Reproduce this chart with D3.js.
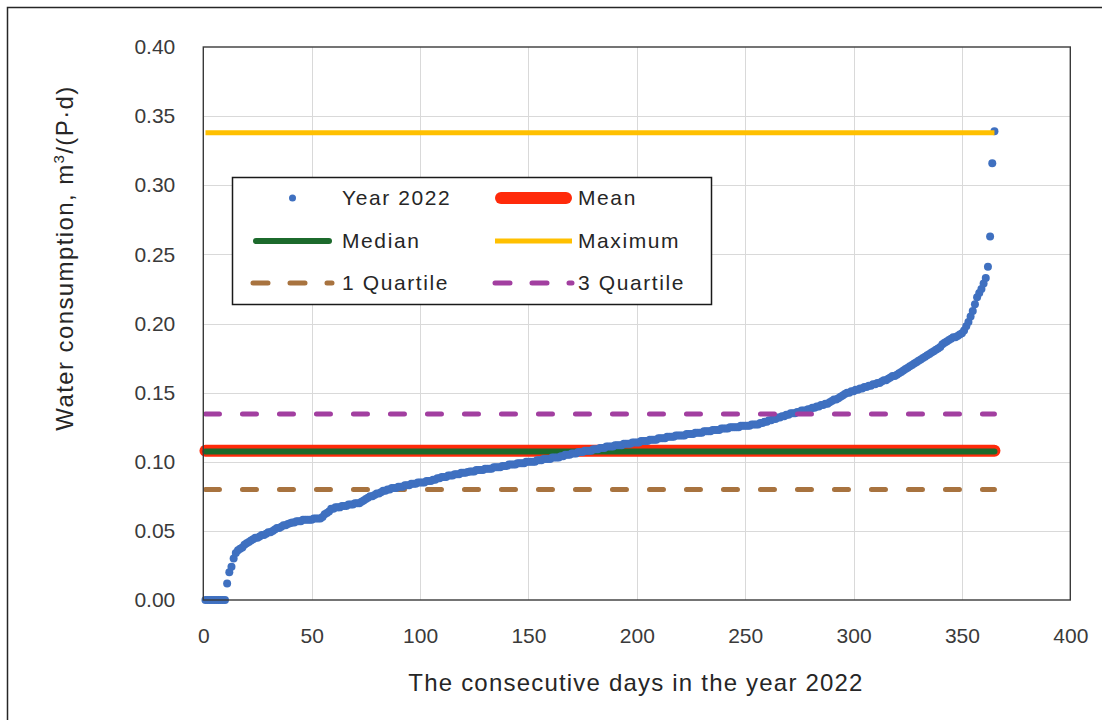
<!DOCTYPE html>
<html>
<head>
<meta charset="utf-8">
<script src="https://cdn.jsdelivr.net/npm/d3@7"></script>
<style>
  html, body { margin: 0; padding: 0; background: #fff; }
  svg { display: block; font-family: "Liberation Sans", Arial, sans-serif; }
</style>
</head>
<body>
<svg id="chart" width="1102" height="720"></svg>
<script>
// Daily water consumption for 2022, sorted ascending (m3 per person per day)
const consumption = [
  0, 0, 0, 0, 0, 0, 0, 0, 0, 0,
  0.012, 0.020, 0.024, 0.030, 0.034, 0.036, 0.037, 0.038, 0.040, 0.041,
  0.042, 0.043, 0.044, 0.045, 0.045, 0.046, 0.047, 0.047, 0.048, 0.049,
  0.049, 0.050, 0.051, 0.052, 0.052, 0.053, 0.054, 0.054, 0.055, 0.0555,
  0.056, 0.056, 0.057, 0.057, 0.057, 0.058, 0.058, 0.058, 0.058, 0.058,
  0.059, 0.059, 0.059, 0.059, 0.060, 0.062, 0.063, 0.064, 0.066, 0.066,
  0.067, 0.067, 0.067, 0.068, 0.068, 0.068, 0.069, 0.069, 0.069, 0.070,
  0.070, 0.070, 0.071, 0.072, 0.073, 0.074, 0.075, 0.075, 0.076, 0.077,
  0.077, 0.078, 0.079, 0.079, 0.080, 0.080, 0.081, 0.081, 0.081, 0.082,
  0.082, 0.082, 0.083, 0.083, 0.083, 0.084, 0.084, 0.084, 0.085, 0.085,
  0.085, 0.085, 0.086, 0.086, 0.086, 0.087, 0.087, 0.088, 0.088, 0.089,
  0.089, 0.089, 0.090, 0.090, 0.090, 0.091, 0.091, 0.091, 0.092, 0.092,
  0.092, 0.0925, 0.093, 0.093, 0.093, 0.094, 0.094, 0.094, 0.094, 0.095,
  0.095, 0.095, 0.095, 0.096, 0.096, 0.096, 0.096, 0.097, 0.097, 0.097,
  0.098, 0.098, 0.098, 0.098, 0.099, 0.099, 0.099, 0.099, 0.100, 0.100,
  0.100, 0.100, 0.100, 0.101, 0.101, 0.101, 0.102, 0.102, 0.102, 0.102,
  0.103, 0.103, 0.103, 0.103, 0.104, 0.104, 0.105, 0.105, 0.105, 0.106,
  0.106, 0.106, 0.107, 0.107, 0.107, 0.108, 0.108, 0.108, 0.108, 0.109,
  0.109, 0.109, 0.110, 0.110, 0.110, 0.111, 0.111, 0.111, 0.111, 0.112,
  0.112, 0.112, 0.112, 0.113, 0.113, 0.113, 0.113, 0.114, 0.114, 0.114,
  0.114, 0.115, 0.115, 0.115, 0.115, 0.116, 0.116, 0.116, 0.116, 0.117,
  0.117, 0.117, 0.117, 0.118, 0.118, 0.118, 0.118, 0.119, 0.119, 0.119,
  0.119, 0.119, 0.120, 0.120, 0.120, 0.120, 0.121, 0.121, 0.121, 0.121,
  0.122, 0.122, 0.122, 0.122, 0.123, 0.123, 0.123, 0.123, 0.124, 0.124,
  0.124, 0.124, 0.125, 0.125, 0.125, 0.125, 0.125, 0.126, 0.126, 0.126,
  0.126, 0.126, 0.127, 0.127, 0.127, 0.127, 0.128, 0.128, 0.129, 0.129,
  0.130, 0.130, 0.131, 0.131, 0.132, 0.132, 0.133, 0.133, 0.134, 0.134,
  0.135, 0.135, 0.135, 0.136, 0.136, 0.137, 0.137, 0.137, 0.138, 0.138,
  0.139, 0.139, 0.140, 0.140, 0.141, 0.141, 0.142, 0.142, 0.143, 0.144,
  0.145, 0.145, 0.146, 0.147, 0.148, 0.149, 0.150, 0.150, 0.151, 0.151,
  0.152, 0.152, 0.153, 0.153, 0.154, 0.154, 0.155, 0.155, 0.156, 0.156,
  0.157, 0.157, 0.158, 0.159, 0.159, 0.160, 0.161, 0.162, 0.162, 0.163,
  0.164, 0.165, 0.166, 0.167, 0.168, 0.169, 0.170, 0.171, 0.172, 0.173,
  0.174, 0.175, 0.176, 0.177, 0.178, 0.179, 0.180, 0.181, 0.182, 0.183,
  0.185, 0.186, 0.187, 0.188, 0.189, 0.190, 0.190, 0.191, 0.192, 0.193,
  0.195, 0.198, 0.201, 0.205, 0.209, 0.214, 0.219, 0.222, 0.225, 0.229,
  0.233, 0.241, 0.263, 0.316, 0.339
];

// Summary statistics drawn as horizontal reference lines
const statNames  = ["Mean", "Median", "1 Quartile", "Year 2022", "3 Quartile", "Maximum"];
const statValues = { "Mean": 0.108, "Median": 0.1075, "1 Quartile": 0.080, "3 Quartile": 0.1345, "Maximum": 0.338 };
const statSpan   = [1, 365];

// Legend entries, read row by row
const legendLabels = ["Year 2022", "Mean", "Median", "Maximum", "1 Quartile", "3 Quartile"];

// Axis ticks
const xTicks = [0, 50, 100, 150, 200, 250, 300, 350, 400];
const yTicks = [0, 0.05, 0.10, 0.15, 0.20, 0.25, 0.30, 0.35, 0.40];

const xTitle = "The consecutive days in the year 2022";

// ---- styles ----
const styles = {
  "Year 2022":  { kind: "dot", color: "#3f70c0" },
  "Mean":       { kind: "line", color: "#ff2a0a", width: 12, cap: "round" },
  "Median":     { kind: "line", color: "#1c6a2c", width: 6, cap: "round" },
  "Maximum":    { kind: "line", color: "#ffc000", width: 5, cap: "butt" },
  "1 Quartile": { kind: "line", color: "#a8733f", width: 5, cap: "round", dash: "14,23" },
  "3 Quartile": { kind: "line", color: "#a23fa0", width: 5, cap: "round", dash: "14,23" }
};

const svg = d3.select("#chart");
const W = 1102, H = 720;
const plot = { left: 203.3, right: 1070.3, top: 47, bottom: 600 };

// outer chart frame
svg.append("rect")
  .attr("x", 7.5).attr("y", 7.5)
  .attr("width", W + 10).attr("height", H + 10)
  .attr("fill", "#fff").attr("stroke", "#262626").attr("stroke-width", 1.5);

const x = d3.scaleLinear().domain([0, 400]).range([plot.left, plot.right]);
const y = d3.scaleLinear().domain([0, 0.40]).range([plot.bottom, plot.top]);

// gridlines
const grid = svg.append("g").attr("stroke", "#d9d9d9").attr("stroke-width", 1);
grid.selectAll("line.v").data(xTicks.slice(1, -1)).join("line")
  .attr("x1", d => Math.round(x(d)) + 0.5).attr("x2", d => Math.round(x(d)) + 0.5)
  .attr("y1", plot.top).attr("y2", plot.bottom);
grid.selectAll("line.h").data(yTicks.slice(1, -1)).join("line")
  .attr("y1", d => Math.round(y(d)) + 0.5).attr("y2", d => Math.round(y(d)) + 0.5)
  .attr("x1", plot.left).attr("x2", plot.right);

// axes (labels only; frame drawn separately)
const xAxis = svg.append("g")
  .attr("transform", `translate(0,${plot.bottom})`)
  .call(d3.axisBottom(x).tickValues(xTicks).tickSize(0).tickPadding(28).tickFormat(d3.format("d")));
const yAxis = svg.append("g")
  .attr("transform", `translate(${plot.left},0)`)
  .call(d3.axisLeft(y).tickValues(yTicks).tickSize(0).tickPadding(28).tickFormat(d3.format(".2f")));
[xAxis, yAxis].forEach(a => {
  a.select(".domain").remove();
  a.selectAll("text")
    .attr("fill", "#3a3a3a")
    .style("font-family", "'Liberation Sans', Arial, sans-serif")
    .style("font-size", "21px");
});

// reference lines and data points, in series drawing order
const seriesG = svg.append("g");
statNames.forEach(name => {
  const st = styles[name];
  if (st.kind === "dot") {
    seriesG.append("g").selectAll("circle")
      .data(consumption).join("circle")
      .attr("cx", (d, i) => x(i + 1))
      .attr("cy", d => y(d))
      .attr("r", 4)
      .attr("fill", st.color);
  } else {
    const v = statValues[name];
    seriesG.append("line")
      .attr("x1", x(statSpan[0])).attr("x2", x(statSpan[1]))
      .attr("y1", y(v)).attr("y2", y(v))
      .attr("stroke", st.color)
      .attr("stroke-width", st.width)
      .attr("stroke-linecap", st.cap)
      .attr("stroke-dasharray", st.dash || null);
  }
});

// plot frame
svg.append("rect")
  .attr("x", plot.left).attr("y", plot.top)
  .attr("width", plot.right - plot.left).attr("height", plot.bottom - plot.top)
  .attr("fill", "none").attr("stroke", "#3a3a3a").attr("stroke-width", 1.4);

// axis titles
svg.append("text")
  .attr("x", 636).attr("y", 691)
  .attr("text-anchor", "middle")
  .attr("fill", "#262626")
  .style("font-size", "24px")
  .style("letter-spacing", "1.2px")
  .text(xTitle);

const yt = svg.append("text")
  .attr("transform", "translate(73,258) rotate(-90)")
  .attr("text-anchor", "middle")
  .attr("fill", "#262626")
  .style("font-size", "24px")
  .style("letter-spacing", "1.4px");
yt.append("tspan").text("Water consumption, m");
yt.append("tspan").attr("dy", -9).style("font-size", "15px").text("3");
yt.append("tspan").attr("dy", 9).text("/(P\u00b7d)");

// legend
const lg = svg.append("g");
lg.append("rect")
  .attr("x", 232.5).attr("y", 177.5).attr("width", 479).attr("height", 127)
  .attr("fill", "#fff").attr("stroke", "#1a1a1a").attr("stroke-width", 1.5);

const legendCols = [{ sx: 253, ex: 332, tx: 342 }, { sx: 495, ex: 572, tx: 578 }];
const legendRows = [198, 241, 283];
legendLabels.forEach((name, i) => {
  const col = legendCols[i % 2];
  const ry = legendRows[Math.floor(i / 2)];
  const st = styles[name];
  if (st.kind === "dot") {
    lg.append("circle").attr("cx", (col.sx + col.ex) / 2).attr("cy", ry).attr("r", 3.5).attr("fill", st.color);
  } else {
    const pad = st.cap === "round" && !st.dash ? st.width / 2 : 0;
    lg.append("line")
      .attr("x1", col.sx + pad).attr("x2", col.ex - pad)
      .attr("y1", ry).attr("y2", ry)
      .attr("stroke", st.color)
      .attr("stroke-width", st.width)
      .attr("stroke-linecap", st.cap)
      .attr("stroke-dasharray", st.dash ? "15,22" : null);
  }
  lg.append("text")
    .attr("x", col.tx).attr("y", ry)
    .attr("dy", "0.35em")
    .attr("fill", "#262626")
    .style("font-size", "21px")
    .style("letter-spacing", "1.6px")
    .text(name);
});
</script>
</body>
</html>
